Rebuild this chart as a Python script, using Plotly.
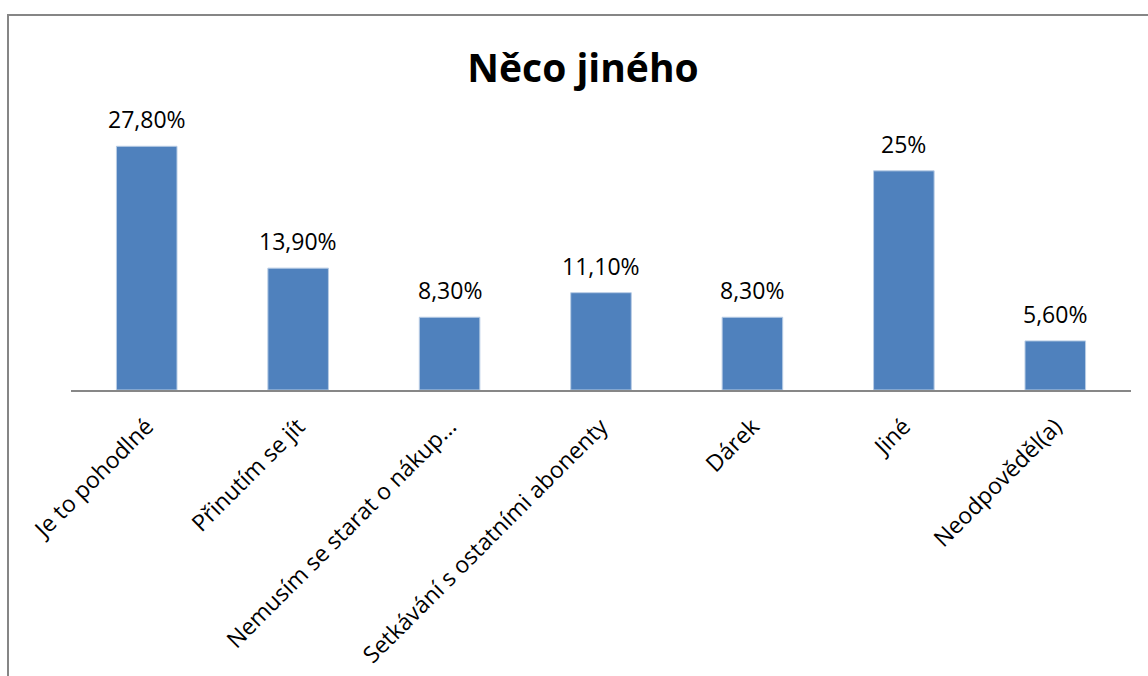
import plotly.graph_objects as go

# Survey answers and their shares (%)
categories = [
    "Je to pohodlné",
    "Přinutím se jít",
    "Nemusím se starat o nákup...",
    "Setkávání s ostatními abonenty",
    "Dárek",
    "Jiné",
    "Neodpověděl(a)",
]
values = [27.8, 13.9, 8.3, 11.1, 8.3, 25, 5.6]
value_labels = ["27,80%", "13,90%", "8,30%", "11,10%", "8,30%", "25%", "5,60%"]

W, H = 1148, 676
L, R, T, B = 71, 17, 127, 286
FONT = "Open Sans"

fig = go.Figure(
    go.Bar(
        x=categories,
        y=values,
        marker=dict(color="#4F81BD", line=dict(color="#B9CDE5", width=1)),
        hoverinfo="skip",
    )
)

# value labels above each bar
for cat, v, lab in zip(categories, values, value_labels):
    fig.add_annotation(
        x=cat, y=v, text=lab, showarrow=False,
        xref="x", yref="y", yanchor="middle", yshift=27,
        font=dict(family=FONT, size=23, color="#000000"),
    )

# outer chart frame
pw, ph = W - L - R, H - T - B
fig.add_shape(
    type="rect", xref="paper", yref="paper",
    x0=(8 - L) / pw, x1=(W + 20 - L) / pw,
    y0=-(H + 20 - T - ph) / ph, y1=1 + (T - 15) / ph,
    line=dict(color="#868686", width=2), fillcolor="rgba(0,0,0,0)",
    layer="below",
)

fig.update_layout(
    width=W, height=H,
    margin=dict(l=L, r=R, t=T, b=B),
    paper_bgcolor="white", plot_bgcolor="white",
    bargap=0.6,
    showlegend=False,
    title=dict(
        text="<b>Něco jiného</b>",
        x=583 / W, xref="container", xanchor="center",
        y=1 - 68 / H, yref="container", yanchor="middle",
        font=dict(family=FONT, size=39, color="#000000"),
    ),
    xaxis=dict(
        tickangle=-45,
        tickfont=dict(family=FONT, size=23, color="#000000"),
        ticklabelshift=0, ticklabelstandoff=12,
        automargin=False,
        showline=True, linecolor="#878787", linewidth=2,
        ticks="", showgrid=False,
    ),
    yaxis=dict(
        range=[0, 30], visible=False, showgrid=False, zeroline=False,
        automargin=False,
    ),
)

fig.write_html("out.html")
